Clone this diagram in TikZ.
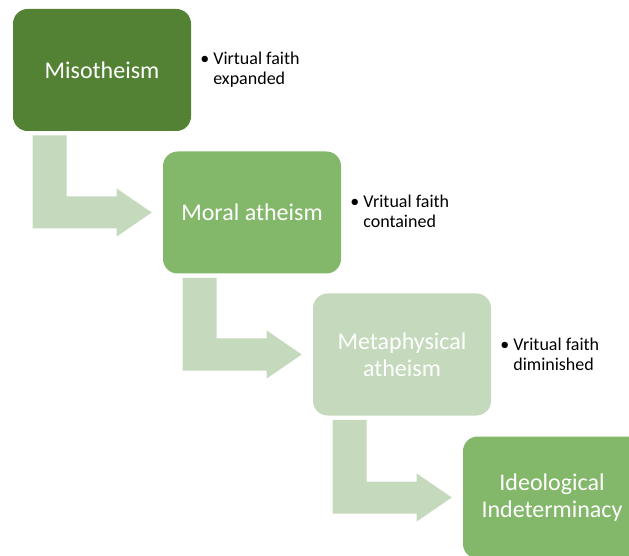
\documentclass[tikz,border=0pt]{standalone}
\usepackage{fontspec}
\setmainfont{Carlito}
\usetikzlibrary{calc}
\definecolor{darkgreen}{RGB}{84,130,53}
\definecolor{midgreen}{RGB}{131,183,106}
\definecolor{palegreen}{RGB}{197,217,188}
\tikzstyle{stage} = [rectangle, rounded corners=11pt, minimum width=133.5pt, minimum height=91.5pt, inner sep=0pt, text=white, align=center, font=\fontsize{18}{20.5}\selectfont]
\tikzstyle{note} = [anchor=north west, align=left, inner sep=0pt, font=\fontsize{13.5}{15}\selectfont]

% bent arrow from the bottom of one stage to the left side of the next
\newcommand{\stagearrow}[2]{%
  \fill[palegreen] let \p1=($(#1.south west)+(15pt,-3pt)$), \p2=($(#2.west)+(-8.25pt,0)$) in
    (\x1,\y1) -- (\x1+25.5pt,\y1) -- (\x1+25.5pt,\y2+12pt) -- (\x2-26.25pt,\y2+12pt)
    -- (\x2-26.25pt,\y2+18pt) -- (\x2,\y2) -- (\x2-26.25pt,\y2-18pt)
    -- (\x2-26.25pt,\y2-12pt) -- (\x1,\y2-12pt) -- cycle;
}

\begin{document}
\begin{tikzpicture}[x=0.75pt, y=-0.75pt]
\useasboundingbox (0,0) rectangle (629,556);
\clip (0,0) rectangle (629,556);

% Stages
\node[stage, fill=darkgreen] (mis) at (102,70) {Misotheism};
\node[stage, fill=midgreen] (moral) at (252,212.5) {Moral atheism};
\node[stage, fill=palegreen] (meta) at (402,354.5) {Metaphysical\\atheism};
\node[stage, fill=midgreen] (ideo) at (552,497.5) {Ideological\\Indeterminacy};

% Arrows
\stagearrow{mis}{moral}
\stagearrow{moral}{meta}
\stagearrow{meta}{ideo}

% Notes
\node[note] (n1) at (200,52) {\textbullet~Virtual faith\\\hphantom{\textbullet~}expanded};
\node[note] (n2) at (350,195) {\textbullet~Vritual faith\\\hphantom{\textbullet~}contained};
\node[note] (n3) at (500,338) {\textbullet~Vritual faith\\\hphantom{\textbullet~}diminished};
\end{tikzpicture}
\end{document}
